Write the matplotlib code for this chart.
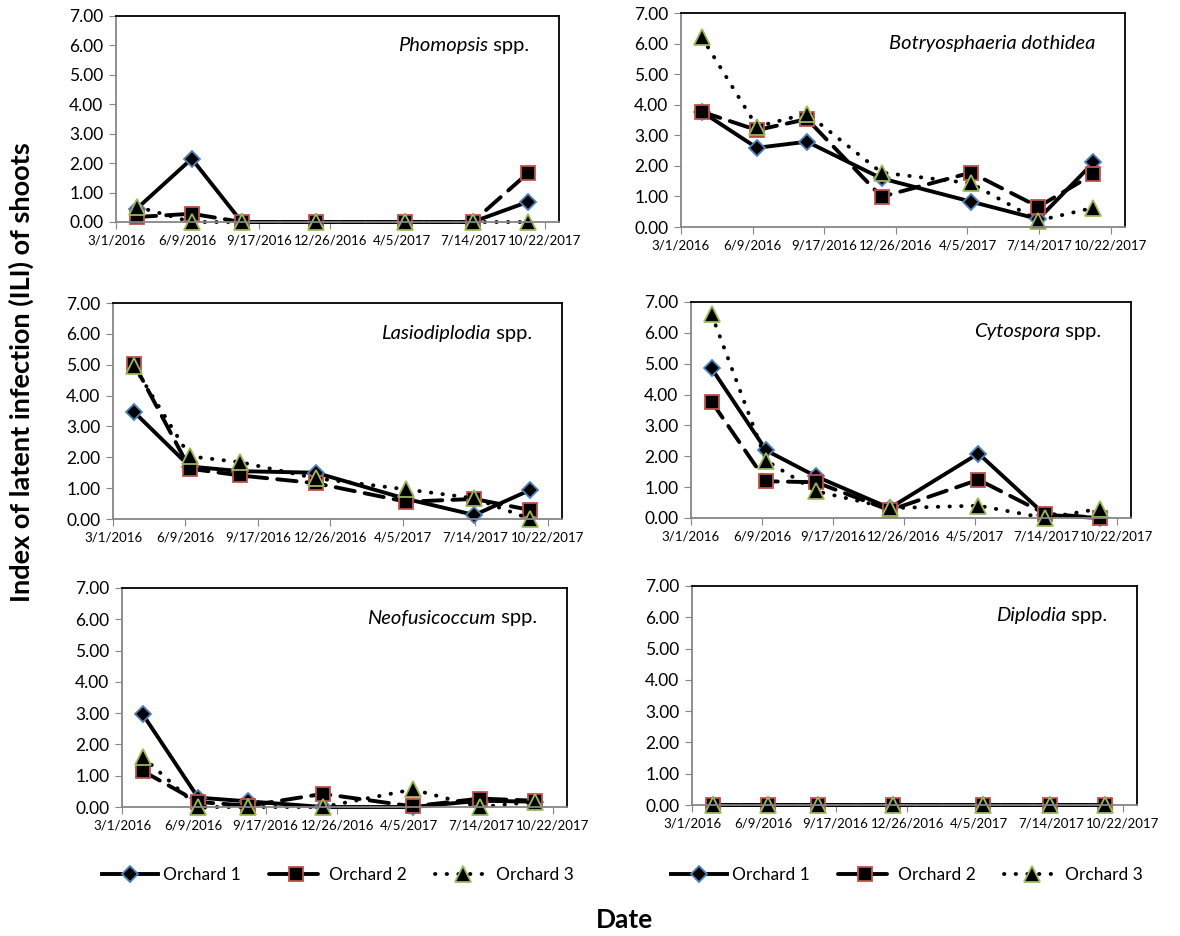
import matplotlib.pyplot as plt
import matplotlib.dates as mdates
import numpy as np

plt.rcParams['font.family'] = ['Lato', 'DejaVu Sans']

# sampling dates
dates = ['2016-03-30', '2016-06-15', '2016-08-24', '2016-12-06',
         '2017-04-10', '2017-07-13', '2017-09-28']
tick_dates = ['2016-03-01', '2016-06-09', '2016-09-17', '2016-12-26',
              '2017-04-05', '2017-07-14', '2017-10-22']
orchards = ['Orchard 1', 'Orchard 2', 'Orchard 3']

titles = [('Phomopsis', ' spp.'), ('Botryosphaeria dothidea', ''),
          ('Lasiodiplodia', ' spp.'), ('Cytospora', ' spp.'),
          ('Neofusicoccum', ' spp.'), ('Diplodia', ' spp.')]

phomopsis_o1 = [0.45, 2.15, 0.0, 0.0, 0.0, 0.0, 0.68]
phomopsis_o2 = [0.17, 0.28, 0.0, 0.0, 0.0, 0.0, 1.65]
phomopsis_o3 = [0.52, 0.0, 0.0, 0.0, 0.0, 0.0, 0.0]

botryo_o1 = [3.77, 2.59, 2.79, 1.59, 0.83, 0.26, 2.11]
botryo_o2 = [3.77, 3.17, 3.53, 0.99, 1.78, 0.66, 1.73]
botryo_o3 = [6.21, 3.28, 3.71, 1.78, 1.43, 0.21, 0.63]

lasio_o1 = [3.47, 1.70, 1.55, 1.50, 0.65, 0.13, 0.94]
lasio_o2 = [5.03, 1.63, 1.41, 1.16, 0.56, 0.65, 0.29]
lasio_o3 = [4.95, 2.03, 1.84, 1.32, 0.96, 0.67, 0.0]

cyto_o1 = [4.85, 2.19, 1.35, 0.32, 2.09, 0.10, 0.0]
cyto_o2 = [3.77, 1.19, 1.16, 0.25, 1.24, 0.14, 0.0]
cyto_o3 = [6.60, 1.86, 0.87, 0.32, 0.40, 0.0, 0.30]

neofus_o1 = [2.96, 0.30, 0.18, 0.0, 0.0, 0.20, 0.17]
neofus_o2 = [1.15, 0.16, 0.04, 0.42, 0.02, 0.27, 0.20]
neofus_o3 = [1.60, 0.0, 0.0, 0.0, 0.56, 0.0, 0.17]

diplodia_o1 = [0.0, 0.0, 0.0, 0.0, 0.0, 0.0, 0.0]
diplodia_o2 = [0.0, 0.0, 0.0, 0.0, 0.0, 0.0, 0.0]
diplodia_o3 = [0.0, 0.0, 0.0, 0.0, 0.0, 0.0, 0.0]

panel_data = [
    (phomopsis_o1, phomopsis_o2, phomopsis_o3),
    (botryo_o1, botryo_o2, botryo_o3),
    (lasio_o1, lasio_o2, lasio_o3),
    (cyto_o1, cyto_o2, cyto_o3),
    (neofus_o1, neofus_o2, neofus_o3),
    (diplodia_o1, diplodia_o2, diplodia_o3),
]

W, H = 1180, 936
# axes frames in pixels: left, right, top, bottom
frames = [(116, 559, 16, 222), (681, 1125, 13, 227),
          (113, 562, 303, 519), (691, 1131, 302, 518),
          (122, 567, 588, 807), (692, 1137, 586, 805)]

styles = [
    dict(linestyle='-', marker='D', markersize=8.5, mfc='black', mec='#4F81BD'),
    dict(linestyle=(0, (5, 2.6)), marker='s', markersize=10.5, mfc='black', mec='#C0504D'),
    dict(linestyle=(0, (0.1, 2.9)), marker='^', markersize=11.5, mfc='black', mec='#9BBB59'),
]

x = mdates.datestr2num(dates)
xt = mdates.datestr2num(tick_dates)

fig = plt.figure(figsize=(W / 100, H / 100), dpi=100)

axes = []
for i, (l, r, t, b) in enumerate(frames):
    ax = fig.add_axes([l / W, 1 - b / H, (r - l) / W, (b - t) / H])
    for j, y in enumerate(panel_data[i]):
        ax.plot(x, y, color='black', lw=2.8, dash_capstyle='round',
                mew=1.3, clip_on=False, label=orchards[j], **styles[j])
    ax.set_xlim(xt[0], xt[0] + 620)
    ax.set_ylim(0, 7)
    ax.set_yticks(np.arange(0, 7.01, 1))
    ax.yaxis.set_major_formatter(plt.FormatStrFormatter('%.2f'))
    ax.set_xticks(xt)
    ax.xaxis.set_major_formatter(mdates.DateFormatter('%-m/%-d/%Y'))
    ax.tick_params(axis='y', labelsize=12.5, length=5, color='#868686', pad=4)
    ax.tick_params(axis='x', labelsize=9.5, length=5, color='#868686', pad=4)
    for s in ax.spines.values():
        s.set_linewidth(1.3)
    ax.spines['left'].set_color('#868686')
    ax.spines['bottom'].set_color('#868686')
    name, rest = titles[i]
    tx = 1 - 30 / (r - l)
    ty = 1 - 30 / (b - t)
    if rest:
        t2 = ax.text(tx, ty, rest, transform=ax.transAxes, ha='right',
                     va='center', fontsize=14.5)
        fig.canvas.draw()
        bb = t2.get_window_extent().transformed(ax.transAxes.inverted())
        ax.text(bb.x0, ty, name, transform=ax.transAxes, ha='right',
                va='center', fontsize=14.5, style='italic')
    else:
        ax.text(tx, ty, name, transform=ax.transAxes, ha='right',
                va='center', fontsize=14.5, style='italic')
    axes.append(ax)

for ax, cx in [(axes[4], 338), (axes[5], 907)]:
    h, lab = ax.get_legend_handles_labels()
    fig.legend(h, lab, loc='center', bbox_to_anchor=(cx / W, 1 - 875 / H),
               ncol=3, frameon=False, fontsize=12.5, handlelength=3.2,
               handletextpad=0.3, columnspacing=1.6)

fig.text(21 / W, 1 - 372 / H, 'Index of latent infection (ILI) of shoots',
         rotation=90, ha='center', va='center', fontsize=19.5, fontweight='bold')
fig.text(625 / W, 1 - 920 / H, 'Date', ha='center', va='center',
         fontsize=19, fontweight='bold')

fig.savefig('out.png', dpi=100)
